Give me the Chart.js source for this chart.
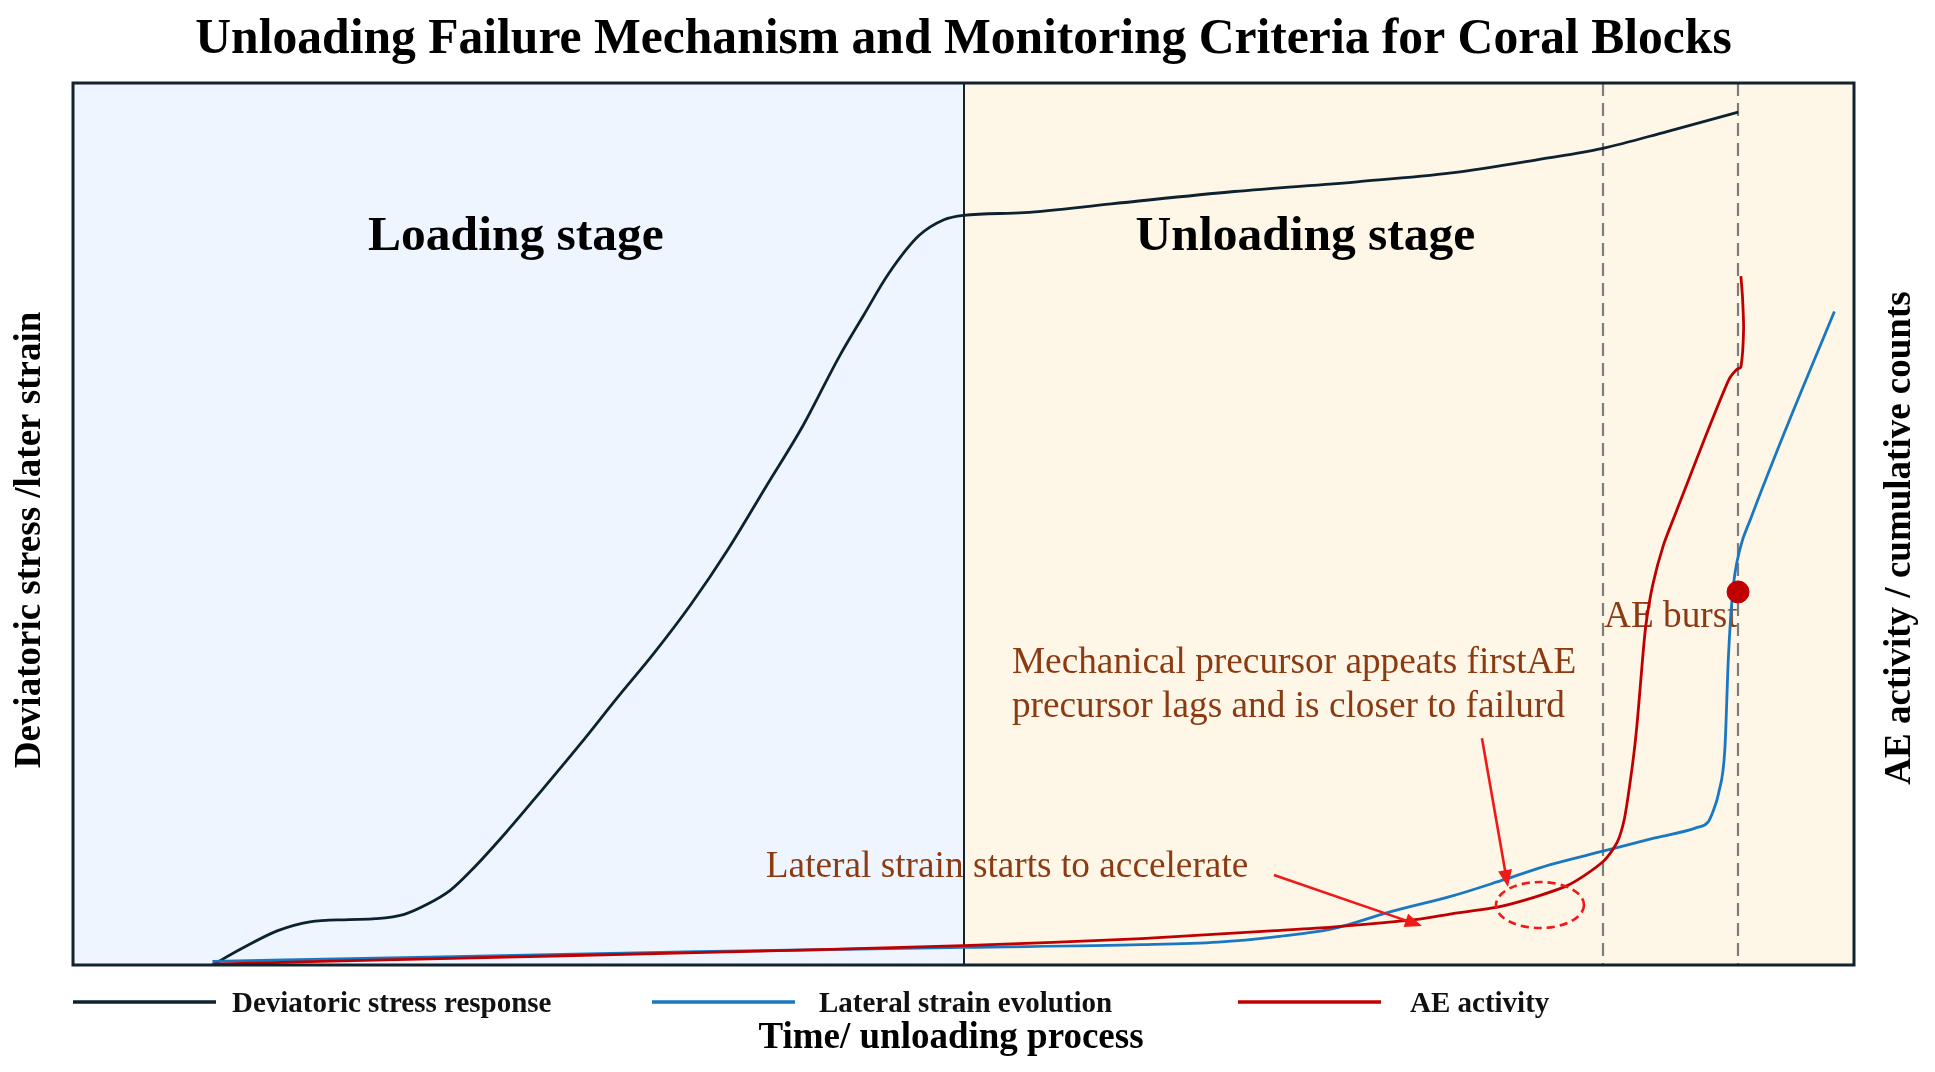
<!DOCTYPE html>
<html>
<head>
<meta charset="utf-8">
<script src="https://cdn.jsdelivr.net/npm/chart.js@4/dist/chart.umd.min.js"></script>
<style>
html,body{margin:0;padding:0;background:#ffffff;}
#wrap{width:1935px;height:1072px;}
</style>
</head>
<body>
<div id="wrap"><canvas id="c" width="1935" height="1072"></canvas></div>
<script>
// ---- data (time axis 0-100, normalized response 0-100) ----
const seriesLabels = ['Deviatoric stress response', 'Lateral strain evolution', 'AE activity'];

const stressTime   = [7.83, 9.5, 11.5, 13.3, 15.5, 17.0, 18.6, 19.8, 21.2, 22.4, 24.3, 26.4, 28.5, 30.6, 32.6, 34.7, 36.8, 38.9, 41.0, 43.0, 44.4, 45.8, 47.5, 48.9, 50.0, 53.4, 58.3, 65.2, 72.1, 77.4, 82.5, 85.9, 89.5, 93.5];
const stressValues = [0.0, 1.9, 3.9, 4.9, 5.15, 5.25, 5.75, 6.8, 8.5, 10.8, 15.0, 20.0, 25.1, 30.4, 35.3, 40.9, 47.2, 54.2, 61.2, 68.9, 73.7, 78.4, 82.7, 84.5, 85.0, 85.3, 86.3, 87.7, 88.8, 89.8, 91.4, 92.6, 94.5, 96.7];

const strainTime   = [7.83, 20, 35, 50, 60, 64.3, 67.5, 70.7, 73.9, 77.4, 80.4, 83.0, 85.9, 88.6, 91.2, 91.8, 92.1, 92.4, 92.75, 92.95, 93.2, 93.6, 94.2, 96.1, 98.9];
const strainValues = [0.4, 0.9, 1.5, 2.0, 2.3, 2.6, 3.2, 4.1, 6.0, 7.8, 9.7, 11.4, 12.9, 14.3, 15.6, 16.2, 17.5, 19.5, 24.5, 35.0, 42.5, 47.2, 50.6, 60.4, 74.1];

const aeTime   = [7.83, 20, 35, 50, 60, 67.5, 70.7, 75.6, 77.4, 80.3, 83.9, 85.9, 86.7, 87.1, 87.4, 87.65, 87.85, 88.05, 88.3, 88.7, 89.3, 90.0, 91.6, 92.98, 93.4, 93.65, 93.8, 93.74, 93.65];
const aeValues = [0.1, 0.7, 1.4, 2.2, 3.0, 3.9, 4.3, 5.2, 5.8, 6.7, 9.0, 11.7, 13.9, 16.5, 20.3, 24.1, 28.0, 32.8, 38.3, 43.1, 47.6, 51.3, 59.6, 66.4, 67.5, 67.8, 72.0, 75.7, 78.1];

const burstTime  = [93.49];
const burstValue = [42.3];

const stageBoundary = 50;
const markerTimes = [85.9, 93.5];
const stageLabels = ['Loading stage', 'Unloading stage'];
const chartTitle = 'Unloading Failure Mechanism and Monitoring Criteria for Coral Blocks';
const xTitle = 'Time/ unloading process';
const yTitle = 'Deviatoric stress /later strain';
const y2Title = 'AE activity / cumulative counts';
const noteAccel = 'Lateral strain starts to accelerate';
const notePrecursor = ['Mechanical precursor appeats firstAE', 'precursor lags and is closer to failurd'];
const noteBurst = 'AE burst';

const pts = (xs, ys) => xs.map((v, i) => ({x: v, y: ys[i]}));

const SERIF = '"Liberation Serif", "Times New Roman", serif';
const BROWN = '#8b3a12';

function arrow(ctx, x1, y1, x2, y2, head, half) {
  const a = Math.atan2(y2 - y1, x2 - x1);
  const c = Math.cos(a), s = Math.sin(a);
  ctx.beginPath();
  ctx.moveTo(x1, y1);
  ctx.lineTo(x2 - head * 0.7 * c, y2 - head * 0.7 * s);
  ctx.stroke();
  ctx.beginPath();
  ctx.moveTo(x2, y2);
  ctx.lineTo(x2 - head * c + half * s, y2 - head * s - half * c);
  ctx.lineTo(x2 - head * c - half * s, y2 - head * s + half * c);
  ctx.closePath();
  ctx.fill();
}

const decor = {
  id: 'decor',
  beforeDatasetsDraw(chart) {
    const {ctx, chartArea: a, scales: {x, y}} = chart;
    const xb = x.getPixelForValue(stageBoundary);
    ctx.save();
    ctx.fillStyle = '#eef5fe';
    ctx.fillRect(a.left, a.top, xb - a.left, a.bottom - a.top);
    ctx.fillStyle = '#fef6e7';
    ctx.fillRect(xb, a.top, a.right - xb, a.bottom - a.top);

    // stage labels
    ctx.fillStyle = '#000';
    ctx.font = 'bold 49.5px ' + SERIF;
    ctx.textAlign = 'center';
    ctx.textBaseline = 'alphabetic';
    ctx.fillText(stageLabels[0], x.getPixelForValue(24.87), y.getPixelForValue(81.1));
    ctx.fillText(stageLabels[1], x.getPixelForValue(69.2), y.getPixelForValue(81.1));

    // annotation texts
    ctx.fillStyle = BROWN;
    ctx.font = '37.3px ' + SERIF;
    ctx.textAlign = 'left';
    ctx.fillText(noteAccel, x.getPixelForValue(38.9), y.getPixelForValue(9.98));
    ctx.fillText(notePrecursor[0], x.getPixelForValue(52.72), y.getPixelForValue(33.1));
    ctx.fillText(notePrecursor[1], x.getPixelForValue(52.72), y.getPixelForValue(28.1));
    ctx.fillText(noteBurst, x.getPixelForValue(85.96), y.getPixelForValue(38.3));

    // dashed markers
    ctx.strokeStyle = '#7d7d7d';
    ctx.lineWidth = 2.2;
    ctx.setLineDash([13, 7]);
    markerTimes.forEach(t => {
      const px = Math.round(x.getPixelForValue(t));
      ctx.beginPath();
      ctx.moveTo(px, a.top);
      ctx.lineTo(px, a.bottom);
      ctx.stroke();
    });
    ctx.setLineDash([]);

    // stage boundary
    ctx.strokeStyle = '#12222f';
    ctx.lineWidth = 2;
    ctx.beginPath();
    ctx.moveTo(Math.round(xb), a.top);
    ctx.lineTo(Math.round(xb), a.bottom);
    ctx.stroke();
    ctx.restore();
  },
  afterDatasetsDraw(chart) {
    const {ctx, scales: {x, y}} = chart;
    ctx.save();
    ctx.strokeStyle = '#f01818';
    ctx.fillStyle = '#f01818';
    ctx.lineWidth = 2.6;
    arrow(ctx, x.getPixelForValue(67.43), y.getPixelForValue(10.2), x.getPixelForValue(75.74), y.getPixelForValue(4.42), 17, 7);
    arrow(ctx, x.getPixelForValue(79.11), y.getPixelForValue(25.7), x.getPixelForValue(80.57), y.getPixelForValue(8.84), 17, 7);
    ctx.setLineDash([8, 5]);
    ctx.beginPath();
    ctx.ellipse(x.getPixelForValue(82.37), y.getPixelForValue(6.8), 44, 23, 0, 0, Math.PI * 2);
    ctx.stroke();
    ctx.restore();
  },
  afterDraw(chart) {
    const {ctx, chartArea: a} = chart;
    ctx.save();
    // frame
    ctx.strokeStyle = '#12222f';
    ctx.lineWidth = 3;
    ctx.strokeRect(a.left, a.top, a.right - a.left, a.bottom - a.top);

    // legend
    const lineX = [73, 652, 1238];
    const textX = [232, 819, 1410];
    ctx.font = 'bold 29px ' + SERIF;
    ctx.textAlign = 'left';
    ctx.textBaseline = 'alphabetic';
    chart.data.datasets.slice(0, 3).forEach((ds, i) => {
      ctx.strokeStyle = ds.borderColor;
      ctx.lineWidth = 3.5;
      ctx.beginPath();
      ctx.moveTo(lineX[i], 1002);
      ctx.lineTo(lineX[i] + 143, 1002);
      ctx.stroke();
      ctx.fillStyle = '#111';
      ctx.fillText(ds.label, textX[i], 1012);
    });

    // axis titles
    ctx.fillStyle = '#000';
    ctx.font = 'bold 37px ' + SERIF;
    ctx.textAlign = 'center';
    ctx.textBaseline = 'middle';
    ctx.fillText(xTitle, 951, 1038);
    ctx.save();
    ctx.translate(30, 540);
    ctx.rotate(-Math.PI / 2);
    ctx.fillText(yTitle, 0, 0);
    ctx.restore();
    ctx.save();
    ctx.translate(1900, 538);
    ctx.rotate(-Math.PI / 2);
    ctx.fillText(y2Title, 0, 0);
    ctx.restore();
    ctx.restore();
  }
};

new Chart(document.getElementById('c'), {
  type: 'line',
  data: {
    datasets: [
      {label: seriesLabels[0], data: pts(stressTime, stressValues), borderColor: '#0d2230', borderWidth: 2.8, pointRadius: 0, cubicInterpolationMode: 'monotone', order: 3},
      {label: seriesLabels[1], data: pts(strainTime, strainValues), borderColor: '#1a78c2', borderWidth: 2.8, pointRadius: 0, cubicInterpolationMode: 'monotone', order: 2},
      {label: seriesLabels[2], data: pts(aeTime, aeValues), borderColor: '#c00000', borderWidth: 2.8, pointRadius: 0, tension: 0.25, order: 1},
      {label: 'AE burst', type: 'scatter', data: pts(burstTime, burstValue), backgroundColor: '#c00000', borderColor: '#c00000', pointRadius: 11, order: 0}
    ]
  },
  options: {
    responsive: false,
    devicePixelRatio: 1,
    animation: false,
    layout: {padding: {left: 73, right: 81, top: 0, bottom: 107}},
    plugins: {
      legend: {display: false},
      tooltip: {enabled: false},
      title: {
        display: true,
        text: chartTitle,
        color: '#000',
        font: {family: SERIF, size: 49.6, weight: 'bold'},
        padding: {top: 10, bottom: 13.5}
      }
    },
    scales: {
      x: {type: 'linear', min: 0, max: 100, display: false},
      y: {type: 'linear', min: 0, max: 100, display: false}
    }
  },
  plugins: [decor]
});
</script>
</body>
</html>
